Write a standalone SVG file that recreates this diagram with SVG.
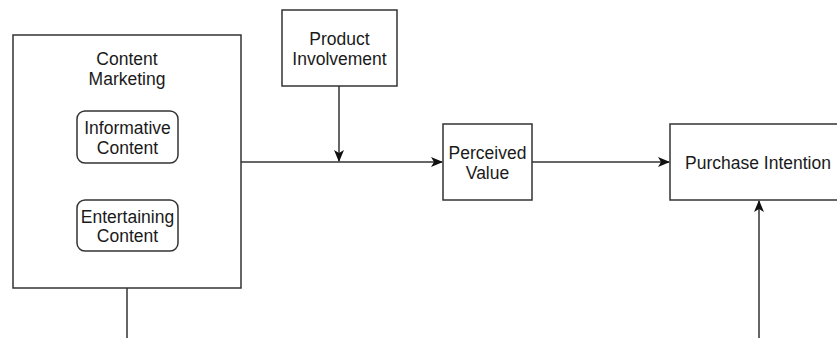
<svg xmlns="http://www.w3.org/2000/svg" width="837" height="338" viewBox="0 0 837 338">
<style>
.box{fill:#fff;stroke:#333;stroke-width:1.5}
.t{font-family:"Liberation Sans",Arial,sans-serif;font-size:17.5px;fill:#1a1a1a;text-anchor:middle;dominant-baseline:central}
.c{fill:none;stroke:#333;stroke-width:1.5}
</style>
<defs>
<marker id="ah" viewBox="0 0 12 10" refX="11" refY="5" markerWidth="12" markerHeight="10" markerUnits="userSpaceOnUse" orient="auto">
<path d="M0,0 L12,5 L0,10 L3,5 Z" fill="#111"/>
</marker>
</defs>
<g id="connectors">
<line class="c" x1="241" y1="162" x2="442" y2="162" marker-end="url(#ah)"/>
<line class="c" x1="339" y1="86" x2="339" y2="161" marker-end="url(#ah)"/>
<line class="c" x1="532" y1="162" x2="669" y2="162" marker-end="url(#ah)"/>
<line class="c" x1="759" y1="338" x2="759" y2="201" marker-end="url(#ah)"/>
<line class="c" x1="127" y1="288" x2="127" y2="338"/>
</g>
<g id="content-marketing">
<rect class="box" x="13" y="35" width="228" height="253"/>
<text class="t" x="127" y="59">Content</text>
<text class="t" x="127" y="79">Marketing</text>
</g>
<g id="informative-content">
<rect class="box" x="77" y="111" width="101" height="52" rx="8"/>
<text class="t" x="127.5" y="128">Informative</text>
<text class="t" x="127.5" y="148">Content</text>
</g>
<g id="entertaining-content">
<rect class="box" x="77" y="200" width="101" height="51" rx="8"/>
<text class="t" x="127.5" y="217">Entertaining</text>
<text class="t" x="127.5" y="236">Content</text>
</g>
<g id="product-involvement">
<rect class="box" x="282" y="10" width="115" height="76"/>
<text class="t" x="339.5" y="39">Product</text>
<text class="t" x="339.5" y="59">Involvement</text>
</g>
<g id="perceived-value">
<rect class="box" x="443" y="124" width="89" height="76"/>
<text class="t" x="487.5" y="153">Perceived</text>
<text class="t" x="487.5" y="173">Value</text>
</g>
<g id="purchase-intention">
<rect class="box" x="670" y="124" width="180" height="76"/>
<text class="t" x="758" y="163">Purchase Intention</text>
</g>
</svg>
